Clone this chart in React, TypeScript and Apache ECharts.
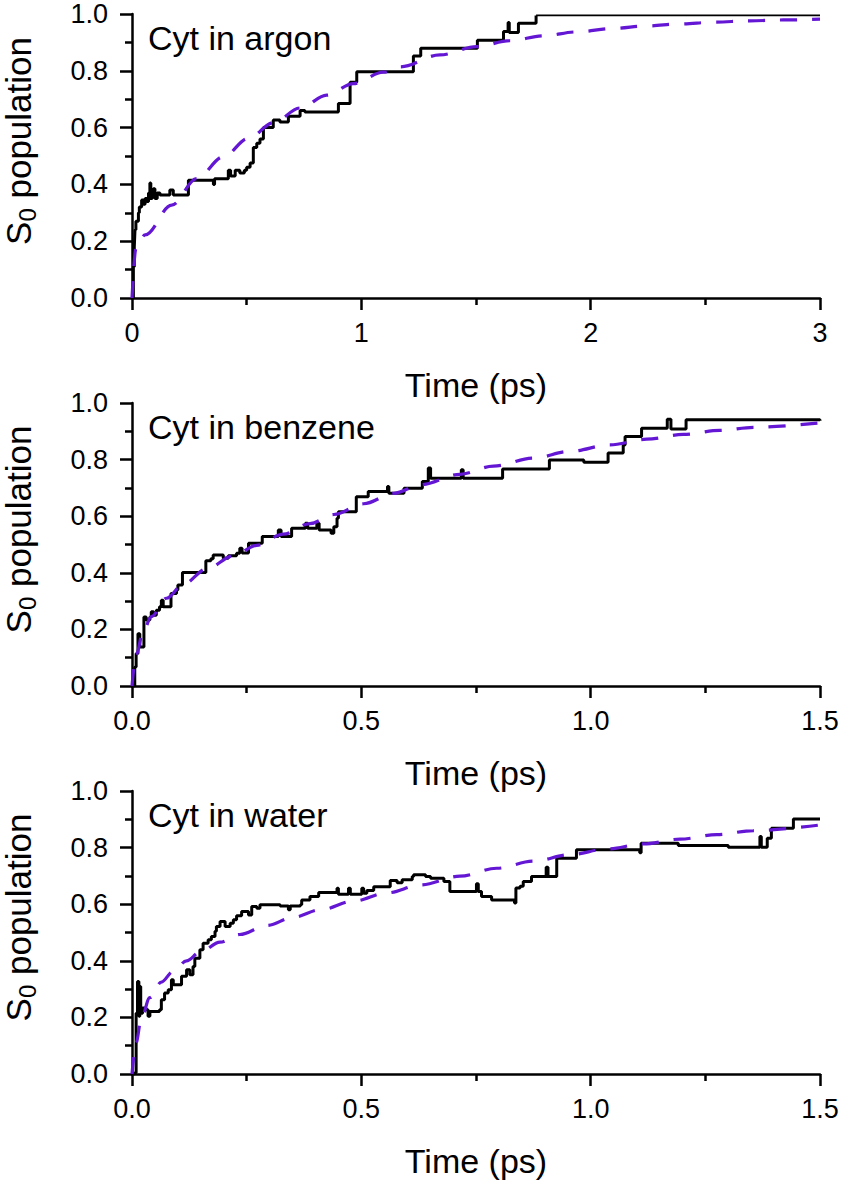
import React, { useEffect, useRef } from "react";
import * as echarts from "echarts";

// ---------- data ----------
const panelTitles = ["Cyt in argon", "Cyt in benzene", "Cyt in water"];
const xMaxes = [3, 1.5, 1.5];
const xIntervals = [1, 0.5, 0.5];

const argonPop: number[][] = [
  [0, 0], [0.006, 0.11], [0.01, 0.18], [0.013, 0.24], [0.017, 0.27], [0.028, 0.3], [0.032, 0.32],
  [0.042, 0.345], [0.05, 0.33], [0.057, 0.35], [0.065, 0.34], [0.072, 0.37], [0.078, 0.405],
  [0.082, 0.35], [0.088, 0.36], [0.093, 0.385], [0.1, 0.35], [0.11, 0.37], [0.122, 0.363],
  [0.165, 0.38], [0.18, 0.363], [0.246, 0.415], [0.34, 0.415], [0.355, 0.4], [0.36, 0.42],
  [0.42, 0.45], [0.43, 0.43], [0.45, 0.45], [0.47, 0.44], [0.49, 0.45], [0.5, 0.46],
  [0.515, 0.475], [0.529, 0.53], [0.544, 0.545], [0.558, 0.56], [0.573, 0.6], [0.616, 0.627],
  [0.645, 0.62], [0.682, 0.64], [0.733, 0.66], [0.754, 0.655], [0.9, 0.685], [0.943, 0.685],
  [0.951, 0.76], [0.98, 0.797], [1.227, 0.852], [1.259, 0.879], [1.506, 0.908], [1.62, 0.938],
  [1.64, 0.97], [1.645, 0.935], [1.685, 0.967], [1.762, 0.995],
];
const argonTail: number[][] = [[1.762, 0.995], [3, 0.995]];
const argonFit: number[][] = [
  [0, 0], [0.017, 0.175], [0.057, 0.222], [0.173, 0.327], [0.282, 0.42], [0.398, 0.497],
  [0.507, 0.562], [0.616, 0.617], [0.733, 0.669], [0.849, 0.714], [0.965, 0.755], [1.096, 0.795],
  [1.169, 0.814], [1.343, 0.856], [1.503, 0.885], [1.648, 0.906], [1.794, 0.923], [1.939, 0.937],
  [2.099, 0.949], [2.245, 0.958], [2.39, 0.965], [2.535, 0.971], [2.695, 0.976], [2.84, 0.979],
  [3.0, 0.982],
];

const benzenePop: number[][] = [
  [0, 0], [0.006, 0.067], [0.009, 0.115], [0.013, 0.185], [0.017, 0.138], [0.026, 0.244],
  [0.031, 0.233], [0.039, 0.244], [0.042, 0.262], [0.047, 0.25], [0.053, 0.268], [0.06, 0.28],
  [0.064, 0.303], [0.068, 0.28], [0.085, 0.327], [0.097, 0.339], [0.1, 0.357], [0.11, 0.401],
  [0.161, 0.443], [0.172, 0.45], [0.177, 0.463], [0.199, 0.451], [0.21, 0.46], [0.228, 0.469],
  [0.235, 0.487], [0.24, 0.47], [0.254, 0.504], [0.284, 0.528], [0.319, 0.551], [0.325, 0.528],
  [0.348, 0.557], [0.378, 0.575], [0.383, 0.557], [0.403, 0.575], [0.408, 0.551], [0.434, 0.54],
  [0.44, 0.563], [0.447, 0.593], [0.45, 0.616], [0.489, 0.669], [0.515, 0.687], [0.557, 0.705],
  [0.56, 0.681], [0.593, 0.699], [0.633, 0.723], [0.646, 0.77], [0.651, 0.734], [0.718, 0.764],
  [0.722, 0.734], [0.808, 0.767], [0.91, 0.799], [0.985, 0.791], [1.038, 0.823], [1.071, 0.852],
  [1.075, 0.882], [1.111, 0.911], [1.167, 0.943], [1.175, 0.908], [1.208, 0.941], [1.5, 0.937],
];
const benzeneFit: number[][] = [
  [0, 0], [0.009, 0.11], [0.024, 0.19], [0.042, 0.245], [0.075, 0.31], [0.112, 0.36],
  [0.163, 0.414], [0.221, 0.46], [0.272, 0.497], [0.33, 0.537], [0.388, 0.574], [0.44, 0.606],
  [0.505, 0.644], [0.571, 0.681], [0.629, 0.711], [0.715, 0.748], [0.788, 0.777], [0.875, 0.805],
  [0.955, 0.829], [1.042, 0.852], [1.122, 0.872], [1.202, 0.889], [1.282, 0.903], [1.355, 0.914],
  [1.5, 0.93],
];

const waterPop: number[][] = [
  [0, 0], [0.006, 0.004], [0.009, 0.215], [0.012, 0.327], [0.015, 0.204], [0.017, 0.309],
  [0.019, 0.215], [0.023, 0.233], [0.031, 0.227], [0.035, 0.204], [0.039, 0.221], [0.06, 0.227],
  [0.064, 0.262], [0.071, 0.286], [0.079, 0.298], [0.086, 0.333], [0.09, 0.315], [0.108, 0.345],
  [0.119, 0.368], [0.126, 0.351], [0.133, 0.38], [0.137, 0.409], [0.148, 0.439], [0.155, 0.462],
  [0.166, 0.474], [0.173, 0.486], [0.181, 0.504], [0.184, 0.521], [0.192, 0.539], [0.203, 0.521],
  [0.214, 0.533], [0.221, 0.545], [0.228, 0.559], [0.239, 0.574], [0.254, 0.562], [0.261, 0.592],
  [0.272, 0.586], [0.279, 0.598], [0.323, 0.594], [0.341, 0.58], [0.345, 0.594], [0.367, 0.598],
  [0.37, 0.615], [0.388, 0.627], [0.407, 0.641], [0.447, 0.656], [0.45, 0.635], [0.472, 0.656],
  [0.476, 0.635], [0.501, 0.656], [0.505, 0.639], [0.512, 0.648], [0.527, 0.662], [0.563, 0.684],
  [0.578, 0.676], [0.589, 0.686], [0.611, 0.698], [0.614, 0.704], [0.64, 0.698], [0.651, 0.692],
  [0.68, 0.68], [0.693, 0.645], [0.751, 0.672], [0.755, 0.645], [0.762, 0.627], [0.784, 0.615],
  [0.834, 0.604], [0.837, 0.657], [0.846, 0.663], [0.853, 0.68], [0.871, 0.698], [0.903, 0.731],
  [0.907, 0.698], [0.926, 0.762], [0.969, 0.792], [1.107, 0.782], [1.11, 0.815], [1.191, 0.807],
  [1.3, 0.801], [1.369, 0.839], [1.372, 0.801], [1.385, 0.833], [1.394, 0.868], [1.442, 0.901],
  [1.5, 0.901],
];
const waterFit: number[][] = [
  [0, 0], [0.009, 0.11], [0.02, 0.195], [0.039, 0.27], [0.064, 0.325], [0.09, 0.363],
  [0.119, 0.4], [0.148, 0.43], [0.192, 0.466], [0.235, 0.493], [0.294, 0.525], [0.352, 0.554],
  [0.41, 0.58], [0.483, 0.611], [0.556, 0.64], [0.629, 0.668], [0.715, 0.699], [0.795, 0.727],
  [0.875, 0.752], [0.955, 0.775], [1.035, 0.795], [1.115, 0.813], [1.195, 0.83], [1.275, 0.846],
  [1.355, 0.86], [1.5, 0.88],
];

const popSeries = [argonPop, benzenePop, waterPop];
const fitSeries = [argonFit, benzeneFit, waterFit];

// ---------- layout / style ----------
const FONT = "'Liberation Sans', Arial, Helvetica, sans-serif";
const PURPLE = "#6316d3";
const gridTops = [14, 403, 791];
const gridHeights = [284, 283, 283];
const GRID_LEFT = 132;
const GRID_WIDTH = 688;

// y-title pieces (Liberation Sans has Arial metrics)
const Y_BIG = 35;
const Y_SUB = 24;
const W_S = 0.667 * Y_BIG;
const W_SUB = 0.556 * Y_SUB;
const W_SPACE = 0.278 * Y_BIG;
const W_POP = 4.614 * Y_BIG;
const Y_TOTAL = W_S + W_SUB + W_SPACE + W_POP;

function buildOption() {
  const grid = gridTops.map((t, i) => ({
    left: GRID_LEFT, top: t, width: GRID_WIDTH, height: gridHeights[i],
  }));
  const axisLineStyle = { color: "#000", width: 2.5 };
  const xAxis = xMaxes.map((mx, i) => ({
    gridIndex: i,
    type: "value",
    min: 0,
    max: mx,
    interval: xIntervals[i],
    axisLine: { show: true, onZero: false, lineStyle: axisLineStyle },
    axisTick: { show: true, inside: false, length: 12, lineStyle: axisLineStyle },
    minorTick: { show: true, splitNumber: 2, length: 7, lineStyle: axisLineStyle },
    splitLine: { show: false },
    minorSplitLine: { show: false },
    axisLabel: {
      color: "#000", fontSize: 27, fontFamily: FONT, margin: 21,
      formatter: (v: number) => (i === 0 ? String(v) : v.toFixed(1)),
    },
    name: "Time (ps)",
    nameLocation: "middle",
    nameGap: 70,
    nameTextStyle: { color: "#000", fontSize: 34, fontFamily: FONT },
  }));
  const yAxis = gridTops.map((_, i) => ({
    gridIndex: i,
    type: "value",
    min: 0,
    max: 1,
    interval: 0.2,
    axisLine: { show: true, onZero: false, lineStyle: axisLineStyle },
    axisTick: { show: true, inside: false, length: 12, lineStyle: axisLineStyle },
    minorTick: { show: true, splitNumber: 2, length: 7, lineStyle: axisLineStyle },
    splitLine: { show: false },
    minorSplitLine: { show: false },
    axisLabel: {
      color: "#000", fontSize: 27, fontFamily: FONT, margin: 24,
      formatter: (v: number) => v.toFixed(1),
    },
  }));
  const series: any[] = [];
  popSeries.forEach((d, i) => {
    series.push({
      type: "line", xAxisIndex: i, yAxisIndex: i, data: d, step: "end",
      symbol: "none", lineStyle: { color: "#000", width: 3 }, z: 3,
    });
  });
  series.push({
    type: "line", xAxisIndex: 0, yAxisIndex: 0, data: argonTail,
    symbol: "none", lineStyle: { color: "#000", width: 1.7 }, z: 3,
  });
  fitSeries.forEach((d, i) => {
    series.push({
      type: "line", xAxisIndex: i, yAxisIndex: i, data: d, smooth: 0.35,
      smoothMonotone: "x",
      symbol: "none", lineStyle: { color: PURPLE, width: 3.2, type: [17, 15] }, z: 4,
    });
  });

  const graphic: any[] = [];
  gridTops.forEach((t, i) => {
    graphic.push({
      type: "text", left: 148, top: t + 7,
      style: { text: panelTitles[i], fontSize: 34, fontFamily: FONT, fill: "#000" },
    });
    const x0 = -Y_TOTAL / 2;
    graphic.push({
      type: "group",
      x: 36,
      y: t + gridHeights[i] / 2 - 15,
      rotation: Math.PI / 2,
      children: [
        {
          type: "text", x: x0, y: 0,
          style: { text: "S", fontSize: Y_BIG, fontFamily: FONT, fill: "#000", align: "left", verticalAlign: "bottom" },
        },
        {
          type: "text", x: x0 + W_S, y: 3.5,
          style: { text: "0", fontSize: Y_SUB, fontFamily: FONT, fill: "#000", align: "left", verticalAlign: "bottom" },
        },
        {
          type: "text", x: x0 + W_S + W_SUB + W_SPACE, y: 0,
          style: { text: "population", fontSize: Y_BIG, fontFamily: FONT, fill: "#000", align: "left", verticalAlign: "bottom" },
        },
      ],
    });
  });

  return {
    animation: false,
    backgroundColor: "#fff",
    grid,
    xAxis,
    yAxis,
    series,
    graphic,
  };
}

export default function App() {
  const ref = useRef<HTMLDivElement>(null);
  useEffect(() => {
    if (!ref.current) return;
    const chart = echarts.init(ref.current, undefined, { renderer: "svg" });
    chart.setOption(buildOption() as any);
    return () => chart.dispose();
  }, []);
  return (
    <div
      ref={ref}
      style={{ position: "absolute", left: 0, top: 0, width: 842, height: 1184, background: "#fff" }}
    />
  );
}
